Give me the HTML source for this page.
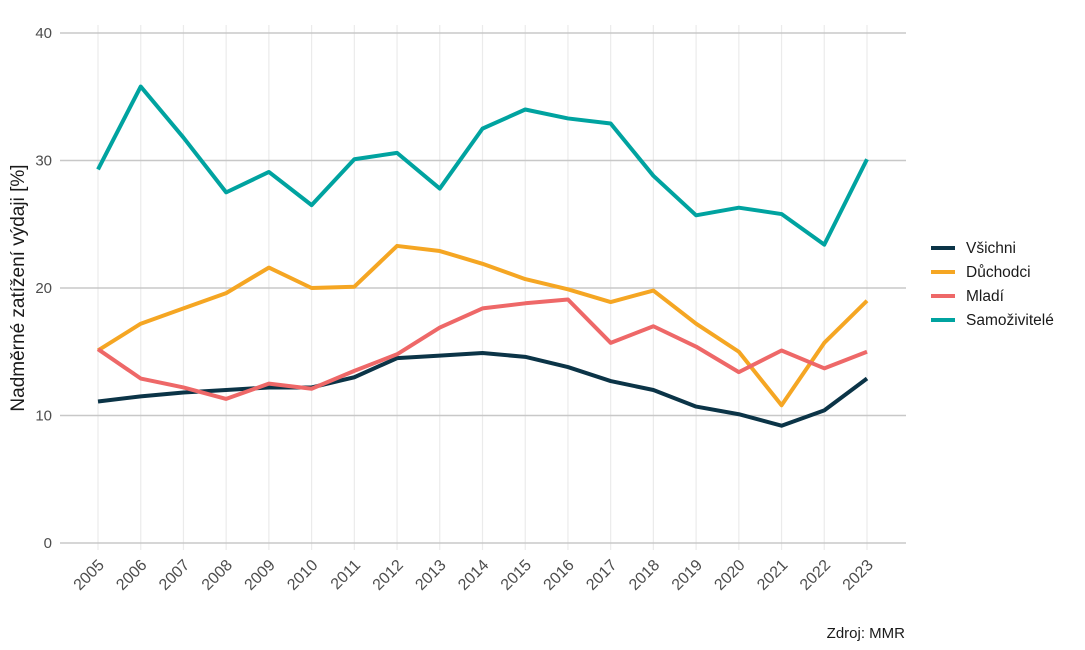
<!DOCTYPE html>
<html><head><meta charset="utf-8"><style>
body{margin:0;background:#fff;}
svg{display:block;font-family:"Liberation Sans",sans-serif;}
</style></head><body>
<svg id="chart" width="1085" height="650"></svg>
<script>
const years=[2005,2006,2007,2008,2009,2010,2011,2012,2013,2014,2015,2016,2017,2018,2019,2020,2021,2022,2023];
const vsichni=[11.1,11.5,11.8,12.0,12.2,12.2,13.0,14.5,14.7,14.9,14.6,13.8,12.7,12.0,10.7,10.1,9.2,10.4,12.9];
const duchodci=[15.1,17.2,18.4,19.6,21.6,20.0,20.1,23.3,22.9,21.9,20.7,19.9,18.9,19.8,17.2,15.0,10.8,15.7,19.0];
const mladi=[15.2,12.9,12.2,11.3,12.5,12.1,13.5,14.8,16.9,18.4,18.8,19.1,15.7,17.0,15.4,13.4,15.1,13.7,15.0];
const samozivitele=[29.3,35.8,31.8,27.5,29.1,26.5,30.1,30.6,27.8,32.5,34.0,33.3,32.9,28.8,25.7,26.3,25.8,23.4,30.1];
const yTicks=[0,10,20,30,40];
const seriesNames=["Všichni","Důchodci","Mladí","Samoživitelé"];
const seriesColors=["#0b3447","#f5a623","#ee6868","#00a3a0"];
const seriesData=[vsichni,duchodci,mladi,samozivitele];

const NS="http://www.w3.org/2000/svg";
const svg=document.getElementById('chart');
const x=i=>98+i*(867-98)/(years.length-1);
const y=v=>543-v*(543-33)/40;
function mk(t,a,p){const e=document.createElementNS(NS,t);for(const k in a)e.setAttribute(k,a[k]);(p||svg).appendChild(e);return e;}

years.forEach((yr,i)=>{
  const g=mk('line',{x1:x(i),x2:x(i),y1:25,y2:550,stroke:'#ebebeb','stroke-width':1.2});
  
  
  const t=mk('text',{x:0,y:0,'font-size':16,fill:'#4d4d4d','text-anchor':'end',transform:`translate(${x(i)+7},${566}) rotate(-45)`});
  t.textContent=yr;
  
  
});
yTicks.forEach(v=>{
  const g=mk('line',{x1:60,x2:906,y1:y(v),y2:y(v),stroke:'#c8c8c8','stroke-width':1.5});
  
  
  const t=mk('text',{x:52,y:y(v)+5,'font-size':15,fill:'#4d4d4d','text-anchor':'end'});
  t.textContent=v;
  
  
});
seriesData.forEach((d,s)=>{
  const p=mk('polyline',{points:d.map((v,i)=>x(i)+','+y(v)).join(' '),fill:'none',stroke:seriesColors[s],'stroke-width':4,'stroke-linejoin':'round'});
  
  
  const ly=248+s*24;
  const k=mk('line',{x1:931,x2:955,y1:ly,y2:ly,stroke:seriesColors[s],'stroke-width':4});
  
  
  const t=mk('text',{x:966,y:ly+5,'font-size':15.5,fill:'#1a1a1a'});
  t.textContent=seriesNames[s];
  
  
});
const yt=mk('text',{x:0,y:0,'font-size':19,fill:'#1a1a1a','text-anchor':'middle',transform:'translate(24,288) rotate(-90)'});
yt.textContent='Nadměrné zatížení výdaji [%]';


const src=mk('text',{x:905,y:638,'font-size':15,fill:'#1a1a1a','text-anchor':'end'});
src.textContent='Zdroj: MMR';


</script>
</body></html>
